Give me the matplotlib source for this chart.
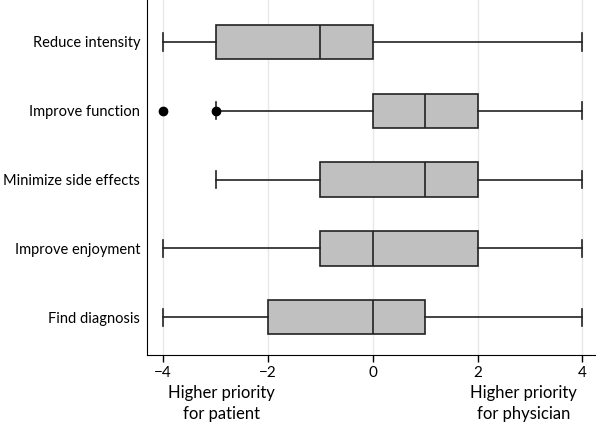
import matplotlib
matplotlib.use('Agg')
import matplotlib.pyplot as plt

matplotlib.rc('font', family=['Lato', 'DejaVu Sans'], size=10.5)

categories = ['Reduce intensity', 'Improve function', 'Minimize side effects',
              'Improve enjoyment', 'Find diagnosis']
whislo = [-4, -3, -3, -4, -4]
q1 = [-3, 0, -1, -1, -2]
med = [-1, 1, 1, 0, 0]
q3 = [0, 2, 2, 2, 1]
whishi = [4, 4, 4, 4, 4]
fliers = [[], [-4, -3], [], [], []]
xticks = [-4, -2, 0, 2, 4]

stats = []
for i, name in enumerate(categories):
    stats.append(dict(label=name, whislo=whislo[i], q1=q1[i], med=med[i],
                      q3=q3[i], whishi=whishi[i], fliers=fliers[i]))

fig = plt.figure(figsize=(6.01, 4.30), dpi=100)
ax = fig.add_axes([0.2446, 0.1744, 0.7454, 0.8256])

edge = '#222222'
ax.bxp(stats, positions=range(1, len(categories) + 1), vert=False,
       widths=0.5, patch_artist=True, showfliers=True,
       boxprops=dict(facecolor='#c0c0c0', edgecolor=edge, linewidth=1.2),
       medianprops=dict(color=edge, linewidth=1.2),
       whiskerprops=dict(color=edge, linewidth=1.2),
       capprops=dict(color=edge, linewidth=1.2),
       flierprops=dict(marker='o', markerfacecolor='black',
                       markeredgecolor='black', markersize=6))

ax.set_xlim(-4.31, 4.24)
ax.set_ylim(5.55, 0.39)
ax.set_xticks(xticks)
ax.set_xticklabels([str(t).replace('-', '\u2212') for t in xticks])
ax.xaxis.grid(True, color='#e8e8e8', linewidth=1)
ax.set_axisbelow(True)
ax.tick_params(axis='y', length=0, pad=5)
ax.tick_params(axis='x', length=5, width=1, pad=3, labelsize=11)

ax.spines['right'].set_visible(False)
ax.spines['top'].set_visible(False)

trans = ax.get_xaxis_transform()
ax.text(-2.89, -0.085, 'Higher priority\nfor patient', ha='center', va='top',
        fontsize=12, linespacing=1.35, transform=trans)
ax.text(2.88, -0.085, 'Higher priority\nfor physician', ha='center', va='top',
        fontsize=12, linespacing=1.35, transform=trans)

fig.savefig('out.png', dpi=100)
